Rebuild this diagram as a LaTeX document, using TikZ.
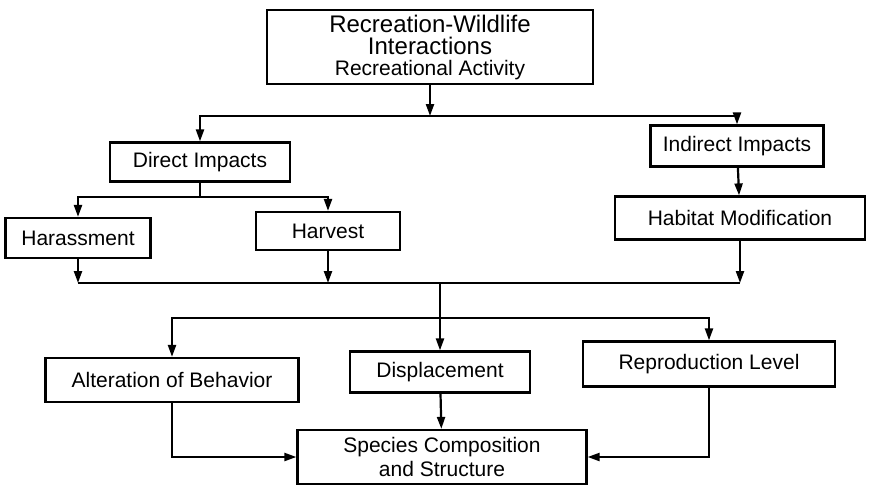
\documentclass[tikz,border=0pt]{standalone}
\usepackage{fontspec}
\setmainfont{Liberation Sans}
\usetikzlibrary{arrows.meta}
\tikzset{
  box/.style={draw, line width=2.2pt, inner sep=0pt, align=center,
    font=\fontsize{21}{24}\selectfont},
  conn/.style={line width=2.2pt},
  arr/.style={conn, -{Triangle[length=12pt,width=8pt]}},
}
\begin{document}
\begin{tikzpicture}[x=1pt,y=-1pt]
\useasboundingbox (0,0) rectangle (873,485);
% boxes
\node[box, minimum width=326pt, minimum height=74pt,
  font=\fontsize{24}{21}\selectfont] (top) at (430,47)
  {Recreation-Wildlife\\[1pt]Interactions\\\fontsize{21}{20}\selectfont Recreational Activity};
\node[box, minimum width=180pt, minimum height=39pt] (direct) at (200,162) {Direct Impacts};
\node[box, minimum width=173pt, minimum height=41pt] (indirect) at (737,146) {Indirect Impacts};
\node[box, minimum width=250pt, minimum height=43pt] (habitat) at (740,218) {Habitat Modification};
\node[box, minimum width=145pt, minimum height=40pt] (harass) at (78,238) {Harassment};
\node[box, minimum width=144pt, minimum height=38pt] (harvest) at (328,231) {Harvest};
\node[box, minimum width=253pt, minimum height=44pt] (alter) at (172,380) {Alteration of Behavior};
\node[box, minimum width=180pt, minimum height=41pt] (disp) at (440,372) {Displacement};
\node[box, minimum width=252pt, minimum height=45pt] (repro) at (709,364) {Reproduction Level};
\node[box, minimum width=289pt, minimum height=54pt] (species) at (442,457)
  {Species Composition\\and Structure};
% junctions
\coordinate (j1) at (430,116);
\coordinate (j2) at (200,197);
\coordinate (j3) at (440,283);
\coordinate (j4) at (440,318);
% connectors
\draw[arr] (top) -- (j1);
\draw[arr] (j1) -| (direct);
\draw[arr] (j1) -| (indirect);
\draw[arr] (indirect) -- (habitat);
\draw[conn] (direct) -- (j2);
\draw[arr] (j2) -| (harass);
\draw[arr] (j2) -| (harvest);
\draw[arr] (harass) -- (harass |- j3);
\draw[arr] (harvest) -- (harvest |- j3);
\draw[arr] (habitat) -- (habitat |- j3);
\draw[conn] (harass |- j3) -- (habitat |- j3);
\draw[conn] (j3) -- (j4);
\draw[arr] (j4) -- (disp);
\draw[arr] (j4) -| (alter);
\draw[arr] (j4) -| (repro);
\draw[arr] (disp) -- (species);
\draw[arr] (alter) |- (species);
\draw[arr] (repro) |- (species);
\end{tikzpicture}
\end{document}
